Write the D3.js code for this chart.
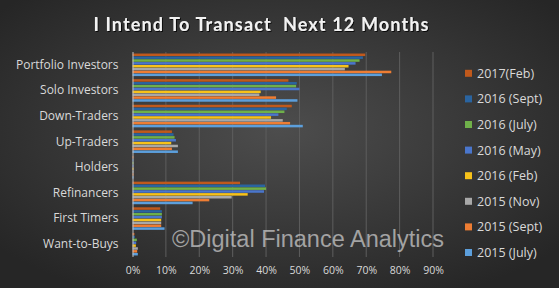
<!DOCTYPE html>
<html>
<head>
<meta charset="utf-8">
<script src="https://cdn.jsdelivr.net/npm/d3@7"></script>
<style>
  body { margin: 0; background: #333; }
  svg { display: block; }
</style>
</head>
<body>
<script>
// chart size
var w = 559, h = 288;

// categories, top to bottom
var categories = ["Portfolio Investors", "Solo Investors", "Down-Traders", "Up-Traders",
                  "Holders", "Refinancers", "First Timers", "Want-to-Buys"];

// survey waves (legend order, also the order of bars inside a group)
var seriesNames = ["2017(Feb)", "2016 (Sept)", "2016 (July)", "2016 (May)",
                   "2016 (Feb)", "2015 (Nov)", "2015 (Sept)", "2015 (July)"];
var seriesColors = ["#c0591c", "#2a64a0", "#6fb04a", "#4a76cc",
                    "#f7c21a", "#a8a8a8", "#ee7d33", "#5c9fdc"];

// share of each segment intending to transact (fractions), one array per wave
var feb2017  = [0.697, 0.467, 0.477, 0.118, 0.003, 0.322, 0.083, 0.006];
var sept2016 = [0.690, 0.492, 0.462, 0.123, 0.003, 0.397, 0.088, 0.007];
var july2016 = [0.680, 0.490, 0.455, 0.126, 0.003, 0.400, 0.088, 0.013];
var may2016  = [0.668, 0.500, 0.437, 0.130, 0.003, 0.394, 0.088, 0.011];
var feb2016  = [0.647, 0.384, 0.415, 0.116, 0.003, 0.345, 0.086, 0.010];
var nov2015  = [0.636, 0.380, 0.450, 0.136, 0.003, 0.297, 0.086, 0.016];
var sept2015 = [0.775, 0.430, 0.472, 0.118, 0.003, 0.230, 0.086, 0.014];
var july2015 = [0.747, 0.494, 0.510, 0.136, 0.003, 0.180, 0.096, 0.016];
var seriesValues = [feb2017, sept2016, july2016, may2016, feb2016, nov2015, sept2015, july2015];

// tick values for the % axis
var ticks = [0, 0.1, 0.2, 0.3, 0.4, 0.5, 0.6, 0.7, 0.8, 0.9];

var svg = d3.select("body").append("svg")
    .attr("width", w)
    .attr("height", h);

// dark radial background like the excel chart style
var defs = svg.append("defs");
var grad = defs.append("radialGradient")
    .attr("id", "bg")
    .attr("cx", "50%").attr("cy", "45%").attr("r", "65%");
grad.append("stop").attr("offset", "0%").attr("stop-color", "#4d4d4d");
grad.append("stop").attr("offset", "100%").attr("stop-color", "#262626");

var shadow = defs.append("filter").attr("id", "ts")
    .attr("x", "-5%").attr("y", "-20%").attr("width", "110%").attr("height", "140%");
shadow.append("feDropShadow")
    .attr("dx", 1).attr("dy", 1).attr("stdDeviation", 0.6)
    .attr("flood-color", "#000").attr("flood-opacity", 0.8);

svg.append("rect")
    .attr("width", w).attr("height", h)
    .attr("fill", "url(#bg)");

// title
svg.append("text")
    .attr("x", 261).attr("y", 31)
    .attr("text-anchor", "middle")
    .attr("textLength", 335)
    .attr("lengthAdjust", "spacing")
    .attr("filter", "url(#ts)")
    .style("font-family", "Lato, 'Open Sans', sans-serif")
    .style("font-weight", "bold")
    .style("font-size", "18px")
    .style("fill", "#f2f2f2")
    .style("white-space", "pre")
    .text("I Intend To Transact  Next 12 Months");

// scales
var x = d3.scaleLinear()
    .domain([0, 0.9])
    .range([132.5, 433]);

var y0 = d3.scaleBand()
    .domain(categories)
    .range([52, 257])
    .paddingInner(0.12)
    .paddingOuter(0.06);

var y1 = d3.scaleBand()
    .domain(seriesNames)
    .range([0, y0.bandwidth()])
    .paddingInner(0.12);

// gridlines
svg.append("g")
    .selectAll("line")
    .data(ticks.slice(1))
    .enter()
    .append("line")
    .attr("x1", function(d){ return x(d); })
    .attr("x2", function(d){ return x(d); })
    .attr("y1", 52).attr("y2", 257)
    .attr("stroke", "#5e5e5e")
    .attr("stroke-width", 1);

// bars
var groups = svg.append("g")
    .selectAll("g")
    .data(seriesNames)
    .enter()
    .append("g")
    .attr("fill", function(d, i){ return seriesColors[i]; });

groups.selectAll("rect")
    .data(function(s, i){
        return seriesValues[i].map(function(v, j){ return {cat: categories[j], s: s, v: v}; });
    })
    .enter()
    .append("rect")
    .attr("x", x(0))
    .attr("y", function(d){ return y0(d.cat) + y1(d.s); })
    .attr("width", function(d){ return x(d.v) - x(0); })
    .attr("height", y1.bandwidth());

// category axis
var yAxis = svg.append("g")
    .attr("transform", "translate(" + x(0) + ",0)")
    .call(d3.axisLeft(y0).tickSize(0).tickPadding(14));
yAxis.select(".domain").attr("stroke", "#bfbfbf").attr("d", "M0.5,52V257");
yAxis.selectAll("text")
    .style("font-family", "'Open Sans', sans-serif")
    .style("font-size", "12px")
    .style("fill", "#d9d9d9");

// % axis
var xAxis = svg.append("g")
    .attr("transform", "translate(0,263)")
    .call(d3.axisBottom(x).tickValues(ticks).tickFormat(d3.format(".0%")).tickSize(0).tickPadding(4));
xAxis.select(".domain").remove();
xAxis.selectAll("text")
    .style("font-family", "'Open Sans', sans-serif")
    .style("font-size", "10.5px")
    .style("fill", "#d9d9d9");

// legend
var legend = svg.append("g")
    .selectAll("g")
    .data(seriesNames)
    .enter()
    .append("g")
    .attr("transform", function(d, i){ return "translate(465," + (73.3 + i * 25.6) + ")"; });
legend.append("rect")
    .attr("x", 0).attr("y", -3.5)
    .attr("width", 7).attr("height", 7)
    .attr("fill", function(d, i){ return seriesColors[i]; });
legend.append("text")
    .attr("x", 12).attr("y", 4.5)
    .style("font-family", "'Open Sans', sans-serif")
    .style("font-size", "12.5px")
    .style("fill", "#d9d9d9")
    .text(function(d){ return d; });

// watermark
svg.append("text")
    .attr("x", 172).attr("y", 247)
    .style("font-family", "'Liberation Sans', Arial, sans-serif")
    .style("font-size", "23.5px")
    .style("fill", "#c8c8c8")
    .style("fill-opacity", 0.75)
    .text("\u00A9Digital Finance Analytics");
</script>
</body>
</html>
